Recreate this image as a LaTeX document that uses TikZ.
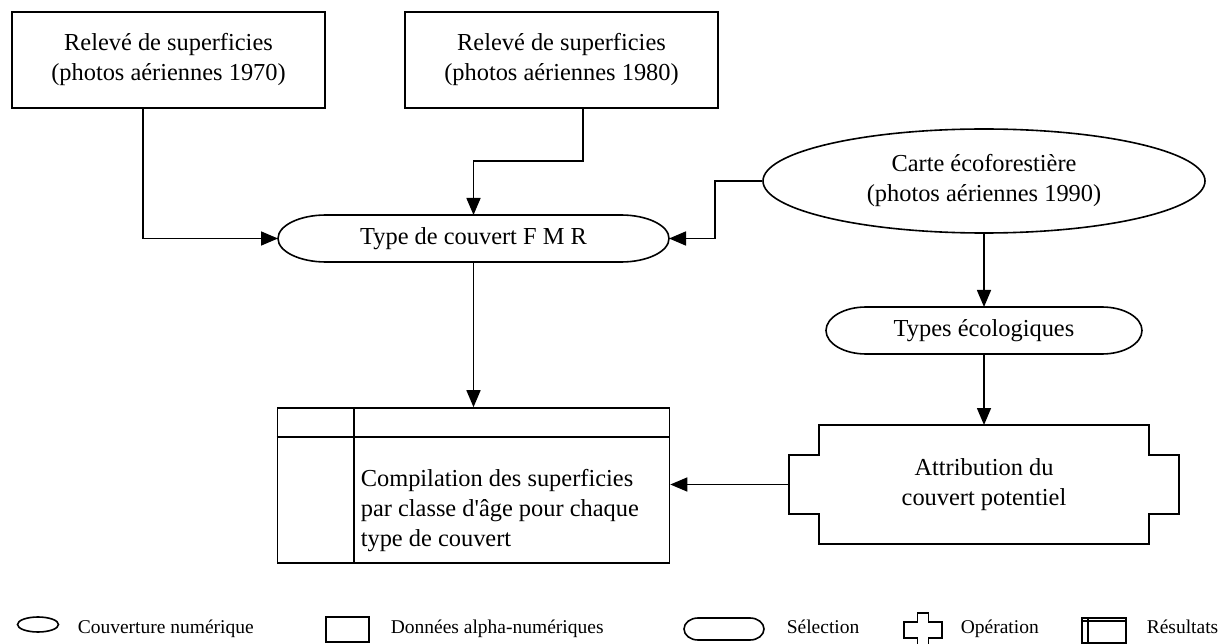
\documentclass[tikz,border=0pt]{standalone}
\usepackage{fontspec}
\setmainfont{Liberation Serif}[Ligatures=TeXOff]
\usetikzlibrary{arrows.meta,shapes.geometric}
% outline of a selection: a bar with elliptical ends drawn around a frame node
\newcommand\selectionoutline[3]{%
  \draw ([xshift=#2]#1.north west) -- ([xshift=-#2]#1.north east)
    arc[start angle=90,end angle=-90,x radius=#2,y radius=#3]
    -- ([xshift=#2]#1.south west)
    arc[start angle=270,end angle=90,x radius=#2,y radius=#3] -- cycle;}
\begin{document}
\begin{tikzpicture}[x=1pt,y=1pt,line width=1.6pt,
  every node/.style={font=\fontsize{24.4}{30}\selectfont,align=center,inner sep=0pt},
  arr/.style={-{Triangle[length=17pt,width=14pt]}},
  databox/.style={draw,rectangle},
  cover/.style={draw,ellipse},
  frame/.style={rectangle,outer sep=0pt},
  legtext/.style={font=\fontsize{19.5}{23}\selectfont,anchor=base west},
]
\useasboundingbox (0,0) rectangle (1226,-644);

% sources
\node[databox,minimum width=313,minimum height=96] (b70) at (168.5,-60)
  {Relevé de superficies\\(photos aériennes 1970)};
\node[databox,minimum width=313,minimum height=96] (b80) at (561.5,-60)
  {Relevé de superficies\\(photos aériennes 1980)};
\node[cover,minimum width=442,minimum height=104] (carte) at (984,-181)
  {Carte écoforestière\\(photos aériennes 1990)};

% selections
\node[frame,minimum width=391,minimum height=47] (typ) at (473.5,-238.5) {Type de couvert F M R};
\selectionoutline{typ}{48}{23.5}
\node[frame,minimum width=316,minimum height=47] (eco) at (984,-330.5) {Types écologiques};
\selectionoutline{eco}{40}{23.5}

% operation
\node[frame,minimum width=390,minimum height=119] (attr) at (984,-484.5)
  {Attribution du\\couvert potentiel};
\draw ([xshift=30]attr.north west) -- ++(330,0) -- ++(0,-30) -- ++(30,0) -- ++(0,-59)
  -- ++(-30,0) -- ++(0,-30) -- ++(-330,0) -- ++(0,30) -- ++(-30,0) -- ++(0,59)
  -- ++(30,0) -- cycle;

% results
\node[databox,minimum width=392,minimum height=155] (res) at (473.5,-485.5) {};
\draw ([yshift=-30]res.north west) -- ([yshift=-30]res.north east);
\draw ([xshift=77]res.north west) -- ([xshift=77]res.south west);
\node[anchor=west,align=left] (restext) at (360,-511)
  {Compilation des superficies\\par classe d'âge pour chaque\\type de couvert};

% connectors
\draw[arr] ([xshift=-25.5]b70.south) |- (typ.west);
\draw[arr] ([xshift=21.5]b80.south) -- ++(0,-52) -| (typ.north);
\draw[arr] (carte.west) -- ++(-47,0) |- (typ.east);
\draw[arr] (carte.south) -- (eco.north);
\draw[arr] (typ.south) -- (res.north);
\draw[arr] (eco.south) -- (attr.north);
\draw[arr] (attr.west) -- (attr.west -| res.east);

% legend
\node[cover,minimum width=41,minimum height=15] (lcov) at (38,-624.5) {};
\node[legtext] (tcov) at (77,-633) {Couverture numérique};
\node[databox,minimum width=43,minimum height=25] (ldat) at (347.5,-629.5) {};
\node[legtext] (tdat) at (390,-633) {Données alpha-numériques};
\node[frame,minimum width=80,minimum height=22] (lsel) at (724,-629) {};
\selectionoutline{lsel}{14}{11}
\node[legtext] (tsel) at (786,-633) {Sélection};
\node[frame,minimum width=38,minimum height=36] (lop) at (923,-631) {};
\draw ([xshift=13.5]lop.north west) -- ++(11,0) -- ++(0,-9) -- ++(13.5,0) -- ++(0,-16)
  -- ++(-13.5,0) -- ++(0,-11) -- ++(-11,0) -- ++(0,11) -- ++(-13.5,0) -- ++(0,16)
  -- ++(13.5,0) -- cycle;
\node[legtext] (top) at (960,-633) {Opération};
\node[databox,minimum width=44,minimum height=25] (lres) at (1104,-630.5) {};
\draw ([yshift=-4]lres.north west) -- ([yshift=-4]lres.north east);
\draw ([xshift=7]lres.north west) -- ([xshift=7]lres.south west);
\node[legtext] (tres) at (1146,-633) {Résultats};
\end{tikzpicture}
\end{document}
